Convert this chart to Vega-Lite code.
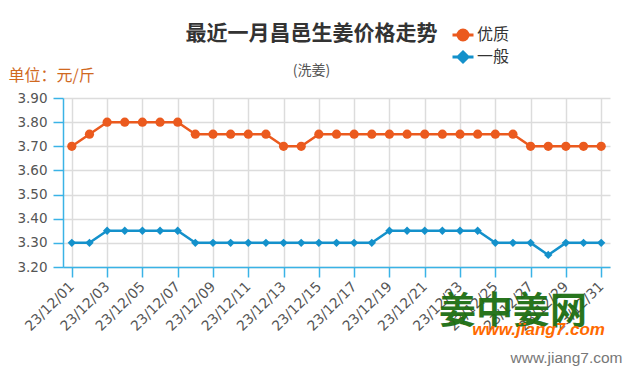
{
  "$schema": "https://vega.github.io/schema/vega-lite/v6.json",
  "width": 547,
  "height": 169,
  "autosize": {"type": "none"},
  "padding": {"left": 63, "top": 98, "right": 25, "bottom": 108},
  "background": "white",
  "title": {
    "text": "最近一月昌邑生姜价格走势",
    "subtitle": "(洗姜)",
    "anchor": "middle",
    "frame": "group",
    "dx": -25,
    "offset": -51,
    "font": "Noto Sans CJK SC",
    "fontSize": 21,
    "fontWeight": "bold",
    "color": "#333333",
    "subtitleFont": "Noto Sans CJK SC",
    "subtitleFontSize": 14,
    "subtitleColor": "#555555",
    "subtitlePadding": 20
  },
  "config": {
    "view": {"stroke": null},
    "axis": {
      "domainColor": "#3ab3e6",
      "domainWidth": 1.5,
      "tickColor": "#3ab3e6",
      "tickWidth": 1.5,
      "tickSize": 10,
      "gridColor": "#dcdcdc",
      "gridWidth": 1.5,
      "labelFont": "DejaVu Sans",
      "labelFontSize": 13.5,
      "labelColor": "#555555"
    }
  },
  "datasets": {
    "prices": [
      {"date": "23/12/01", "series": "优质", "price": 3.70},
      {"date": "23/12/02", "series": "优质", "price": 3.75},
      {"date": "23/12/03", "series": "优质", "price": 3.80},
      {"date": "23/12/04", "series": "优质", "price": 3.80},
      {"date": "23/12/05", "series": "优质", "price": 3.80},
      {"date": "23/12/06", "series": "优质", "price": 3.80},
      {"date": "23/12/07", "series": "优质", "price": 3.80},
      {"date": "23/12/08", "series": "优质", "price": 3.75},
      {"date": "23/12/09", "series": "优质", "price": 3.75},
      {"date": "23/12/10", "series": "优质", "price": 3.75},
      {"date": "23/12/11", "series": "优质", "price": 3.75},
      {"date": "23/12/12", "series": "优质", "price": 3.75},
      {"date": "23/12/13", "series": "优质", "price": 3.70},
      {"date": "23/12/14", "series": "优质", "price": 3.70},
      {"date": "23/12/15", "series": "优质", "price": 3.75},
      {"date": "23/12/16", "series": "优质", "price": 3.75},
      {"date": "23/12/17", "series": "优质", "price": 3.75},
      {"date": "23/12/18", "series": "优质", "price": 3.75},
      {"date": "23/12/19", "series": "优质", "price": 3.75},
      {"date": "23/12/20", "series": "优质", "price": 3.75},
      {"date": "23/12/21", "series": "优质", "price": 3.75},
      {"date": "23/12/22", "series": "优质", "price": 3.75},
      {"date": "23/12/23", "series": "优质", "price": 3.75},
      {"date": "23/12/24", "series": "优质", "price": 3.75},
      {"date": "23/12/25", "series": "优质", "price": 3.75},
      {"date": "23/12/26", "series": "优质", "price": 3.75},
      {"date": "23/12/27", "series": "优质", "price": 3.70},
      {"date": "23/12/28", "series": "优质", "price": 3.70},
      {"date": "23/12/29", "series": "优质", "price": 3.70},
      {"date": "23/12/30", "series": "优质", "price": 3.70},
      {"date": "23/12/31", "series": "优质", "price": 3.70},
      {"date": "23/12/01", "series": "一般", "price": 3.30},
      {"date": "23/12/02", "series": "一般", "price": 3.30},
      {"date": "23/12/03", "series": "一般", "price": 3.35},
      {"date": "23/12/04", "series": "一般", "price": 3.35},
      {"date": "23/12/05", "series": "一般", "price": 3.35},
      {"date": "23/12/06", "series": "一般", "price": 3.35},
      {"date": "23/12/07", "series": "一般", "price": 3.35},
      {"date": "23/12/08", "series": "一般", "price": 3.30},
      {"date": "23/12/09", "series": "一般", "price": 3.30},
      {"date": "23/12/10", "series": "一般", "price": 3.30},
      {"date": "23/12/11", "series": "一般", "price": 3.30},
      {"date": "23/12/12", "series": "一般", "price": 3.30},
      {"date": "23/12/13", "series": "一般", "price": 3.30},
      {"date": "23/12/14", "series": "一般", "price": 3.30},
      {"date": "23/12/15", "series": "一般", "price": 3.30},
      {"date": "23/12/16", "series": "一般", "price": 3.30},
      {"date": "23/12/17", "series": "一般", "price": 3.30},
      {"date": "23/12/18", "series": "一般", "price": 3.30},
      {"date": "23/12/19", "series": "一般", "price": 3.35},
      {"date": "23/12/20", "series": "一般", "price": 3.35},
      {"date": "23/12/21", "series": "一般", "price": 3.35},
      {"date": "23/12/22", "series": "一般", "price": 3.35},
      {"date": "23/12/23", "series": "一般", "price": 3.35},
      {"date": "23/12/24", "series": "一般", "price": 3.35},
      {"date": "23/12/25", "series": "一般", "price": 3.30},
      {"date": "23/12/26", "series": "一般", "price": 3.30},
      {"date": "23/12/27", "series": "一般", "price": 3.30},
      {"date": "23/12/28", "series": "一般", "price": 3.25},
      {"date": "23/12/29", "series": "一般", "price": 3.30},
      {"date": "23/12/30", "series": "一般", "price": 3.30},
      {"date": "23/12/31", "series": "一般", "price": 3.30}
    ],
    "logo": [
      {"date": "23/12/26", "price": 3.0, "label": "姜中姜网", "kind": "mark"},
      {"date": "23/12/27", "price": 2.94, "label": "www.jiang7.com", "kind": "site"}
    ]
  },
  "data": {"name": "prices"},
  "encoding": {
    "x": {
      "field": "date",
      "type": "ordinal",
      "sort": null,
      "scale": {"type": "point", "padding": 0.5},
      "axis": {
        "values": ["23/12/01", "23/12/03", "23/12/05", "23/12/07", "23/12/09", "23/12/11", "23/12/13", "23/12/15", "23/12/17", "23/12/19", "23/12/21", "23/12/23", "23/12/25", "23/12/27", "23/12/29", "23/12/31"],
        "labelAngle": -45,
        "labelAlign": "right",
        "labelBaseline": "middle",
        "labelPadding": 7,
        "labelFontSize": 14,
        "grid": true,
        "title": "www.jiang7.com",
        "titleFont": "Liberation Sans",
        "titleFontSize": 15.5,
        "titleFontWeight": "normal",
        "titleColor": "#777777",
        "titleAlign": "right",
        "titleBaseline": "middle",
        "titleAnchor": null,
        "titleX": 559,
        "titleY": 90
      }
    },
    "y": {
      "field": "price",
      "type": "quantitative",
      "scale": {"domain": [3.2, 3.9], "nice": false, "zero": false},
      "axis": {
        "values": [3.2, 3.3, 3.4, 3.5, 3.6, 3.7, 3.8, 3.9],
        "format": ".2f",
        "labelPadding": 6,
        "grid": true,
        "title": "单位：元/斤",
        "titleAngle": 0,
        "titleAlign": "left",
        "titleBaseline": "alphabetic",
        "titleAnchor": null,
        "titleX": -55,
        "titleY": -18,
        "titleFont": "Noto Sans CJK SC",
        "titleFontSize": 16,
        "titleFontWeight": "normal",
        "titleColor": "#d0691f"
      }
    }
  },
  "layer": [
    {
      "transform": [{"filter": "datum.series === '一般'"}],
      "mark": {"type": "line", "color": "#1491cb", "strokeWidth": 2.5, "point": {"shape": "diamond", "filled": true, "size": 70, "color": "#1491cb"}}
    },
    {
      "transform": [{"filter": "datum.series === '优质'"}],
      "mark": {"type": "line", "color": "#eb5a1e", "strokeWidth": 2.5, "point": {"shape": "circle", "filled": true, "size": 85, "color": "#eb5a1e"}}
    },
    {
      "mark": {"type": "point", "filled": true, "opacity": 0},
      "encoding": {
        "color": {
          "field": "series",
          "type": "nominal",
          "scale": {"domain": ["优质", "一般"], "range": ["#eb5a1e", "#1491cb"]},
          "legend": {
            "orient": "none",
            "legendX": 392,
            "legendY": -71,
            "title": null,
            "padding": 0,
            "symbolOpacity": 1,
            "symbolSize": 100,
            "symbolStrokeWidth": 3,
            "labelOffset": 6,
            "labelFont": "Noto Sans CJK SC",
            "labelFontSize": 16,
            "labelColor": "#333333",
            "rowPadding": 0,
            "encode": {
              "symbols": {
                "update": {
                  "stroke": {"signal": "datum.value === '优质' ? '#eb5a1e' : '#1491cb'"},
                  "strokeWidth": {"value": 3}
                }
              }
            }
          }
        },
        "shape": {
          "field": "series",
          "type": "nominal",
          "scale": {"domain": ["优质", "一般"], "range": ["M-2.1,0H2.1M-1,0A1,1 0 1,1 1,0A1,1 0 1,1 -1,0Z", "M-2.1,0H2.1M0,-1L1,0L0,1L-1,0Z"]},
          "legend": {
            "orient": "none",
            "legendX": 392,
            "legendY": -71,
            "title": null,
            "padding": 0,
            "symbolOpacity": 1,
            "symbolSize": 100,
            "symbolStrokeWidth": 3,
            "labelOffset": 6,
            "labelFont": "Noto Sans CJK SC",
            "labelFontSize": 16,
            "labelColor": "#333333",
            "rowPadding": 0,
            "encode": {
              "symbols": {
                "update": {
                  "stroke": {"signal": "datum.value === '优质' ? '#eb5a1e' : '#1491cb'"},
                  "strokeWidth": {"value": 3}
                }
              }
            }
          }
        }
      }
    },
    {
      "data": {"name": "logo"},
      "transform": [{"filter": "datum.kind === 'mark'"}],
      "mark": {"type": "text", "clip": false, "font": "Noto Sans CJK SC", "fontWeight": "bold", "fontSize": 37, "color": "#1d6e12", "opacity": 0.95, "align": "center", "baseline": "middle", "dy": -2},
      "encoding": {
        "text": {"field": "label", "type": "nominal"}
      }
    },
    {
      "data": {"name": "logo"},
      "transform": [{"filter": "datum.kind === 'site'"}],
      "mark": {"type": "text", "clip": false, "font": "Liberation Sans", "fontWeight": "bold", "fontStyle": "italic", "fontSize": 17, "color": "#ff6a00", "align": "center", "baseline": "middle", "dx": 8},
      "encoding": {
        "text": {"field": "label", "type": "nominal"}
      }
    }
  ]
}
